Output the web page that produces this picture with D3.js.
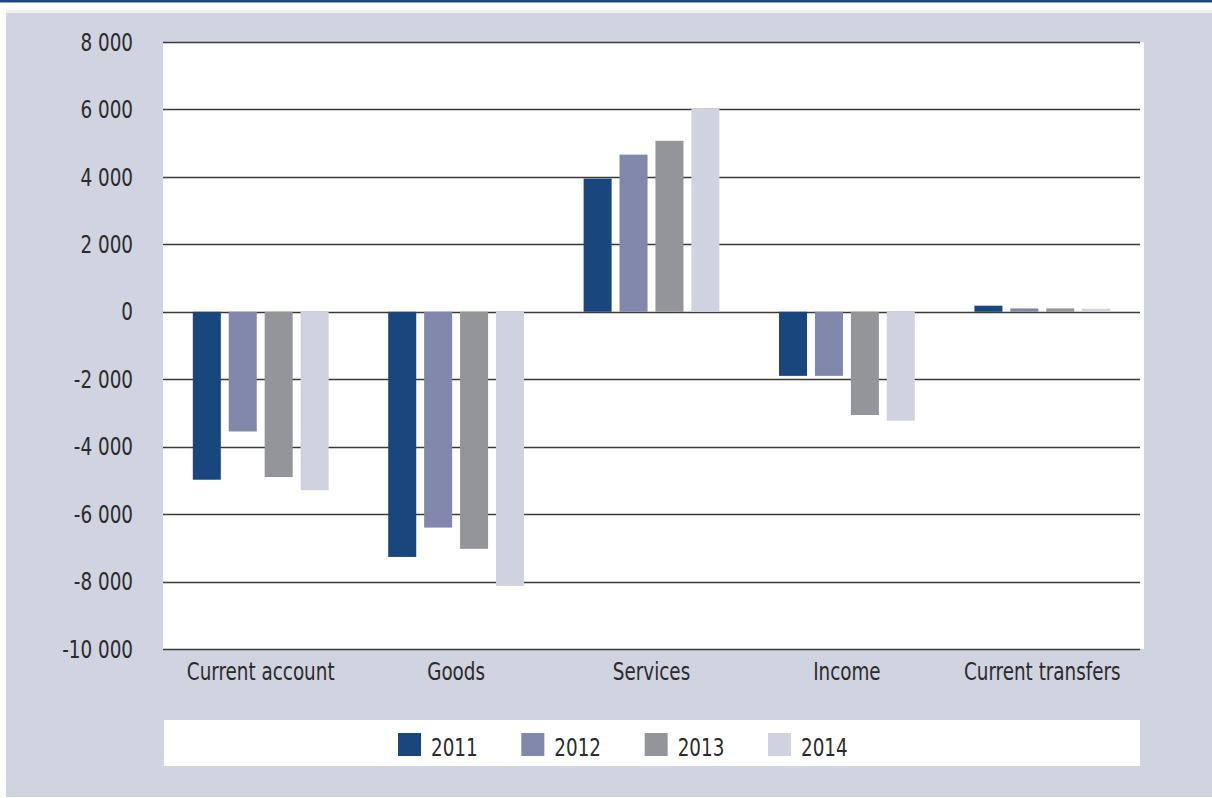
<!DOCTYPE html>
<html><head><meta charset="utf-8">
<script src="https://cdn.jsdelivr.net/npm/d3@7"></script>
<style>
html,body{margin:0;padding:0;background:#fff;}
svg{display:block;}
text{font-family:"Liberation Sans Narrow","Arial Narrow","DejaVu Sans Condensed",sans-serif;fill:#2b2b2b;}
</style></head>
<body>
<svg id="chart" width="1212" height="798"></svg>
<script>
const categories = ["Current account","Goods","Services","Income","Current transfers"];
const years = ["2011","2012","2013","2014"];
const values2011 = [-4980,-7270,3950,-1900,180];
const values2012 = [-3550,-6400,4660,-1900,100];
const values2013 = [-4900,-7030,5070,-3060,100];
const values2014 = [-5290,-8130,6020,-3230,90];
const yTicks = [8000,6000,4000,2000,0,-2000,-4000,-6000,-8000,-10000];
const colors = ["#19467d","#8288ab","#949599","#d0d2df"];

const series = [values2011,values2012,values2013,values2014];
const svg = d3.select("#chart");
const SX = 0.85;

// frame
svg.append("rect").attr("x",0).attr("y",0).attr("width",1212).attr("height",2.5).attr("fill","#1b4a80");
svg.append("rect").attr("x",6).attr("y",10).attr("width",1206).attr("height",3).attr("fill","#f0f0f2");
svg.append("rect").attr("x",6).attr("y",13).attr("width",1206).attr("height",784).attr("fill","#d0d3e0");

const pLeft = 163, pRight = 1140, pTop = 42, pBottom = 649;
svg.append("rect").attr("x",pLeft).attr("y",pTop).attr("width",1144-pLeft).attr("height",pBottom-pTop).attr("fill","#fff");

const y = d3.scaleLinear().domain([-10000,8000]).range([pBottom, pTop]);
const x0 = d3.scaleBand().domain(categories).range([pLeft, pRight]).padding(0);
const x1 = d3.scaleBand().domain(years).range([0, x0.bandwidth()]).paddingInner(0.22).paddingOuter(0.83);

// gridlines
svg.append("g").selectAll("line").data(yTicks).join("line")
  .attr("x1",pLeft).attr("x2",pRight)
  .attr("y1",d=>Math.round(y(d))+0.5).attr("y2",d=>Math.round(y(d))+0.5)
  .attr("stroke","#3a3a3a").attr("stroke-width",1.3);

// y axis labels
const fmt = d => d3.format(",")(d).replace(/,/g," ").replace("−","-");
svg.append("g").selectAll("g").data(yTicks).join("g")
  .attr("transform",d=>`translate(133,${y(d)})`)
  .append("text").attr("transform",`scale(${SX},1)`).attr("dy","0.36em")
  .attr("text-anchor","end").attr("font-size",24).text(fmt);

// bars
const rows = categories.map((c,i)=>({cat:c, vals: years.map((yr,j)=>({yr, j, v: series[j][i]}))}));
const g = svg.append("g").selectAll("g").data(rows).join("g")
  .attr("transform",d=>`translate(${x0(d.cat)},0)`);
g.selectAll("rect").data(d=>d.vals).join("rect")
  .attr("x",d=>x1(d.yr)).attr("width",x1.bandwidth())
  .attr("y",d=>y(Math.max(0,d.v))).attr("height",d=>Math.abs(y(d.v)-y(0)))
  .attr("fill",d=>colors[d.j]);

// category labels
svg.append("g").selectAll("g").data(categories).join("g")
  .attr("transform",d=>`translate(${x0(d)+x0.bandwidth()/2},680)`)
  .append("text").attr("transform",`scale(${SX},1)`)
  .attr("text-anchor","middle").attr("font-size",24).text(d=>d);

// legend
svg.append("rect").attr("x",164).attr("y",720).attr("width",976).attr("height",46).attr("fill","#fff");
const lx = d3.scalePoint().domain(years).range([398,768]);
const lg = svg.append("g").selectAll("g").data(years).join("g")
  .attr("transform",d=>`translate(${lx(d)},733)`);
lg.append("rect").attr("width",23).attr("height",23).attr("fill",(d,i)=>colors[i]);
lg.append("g").attr("transform","translate(33,23)")
  .append("text").attr("transform",`scale(${SX},1)`).attr("font-size",24).text(d=>d);
</script>
</body></html>
